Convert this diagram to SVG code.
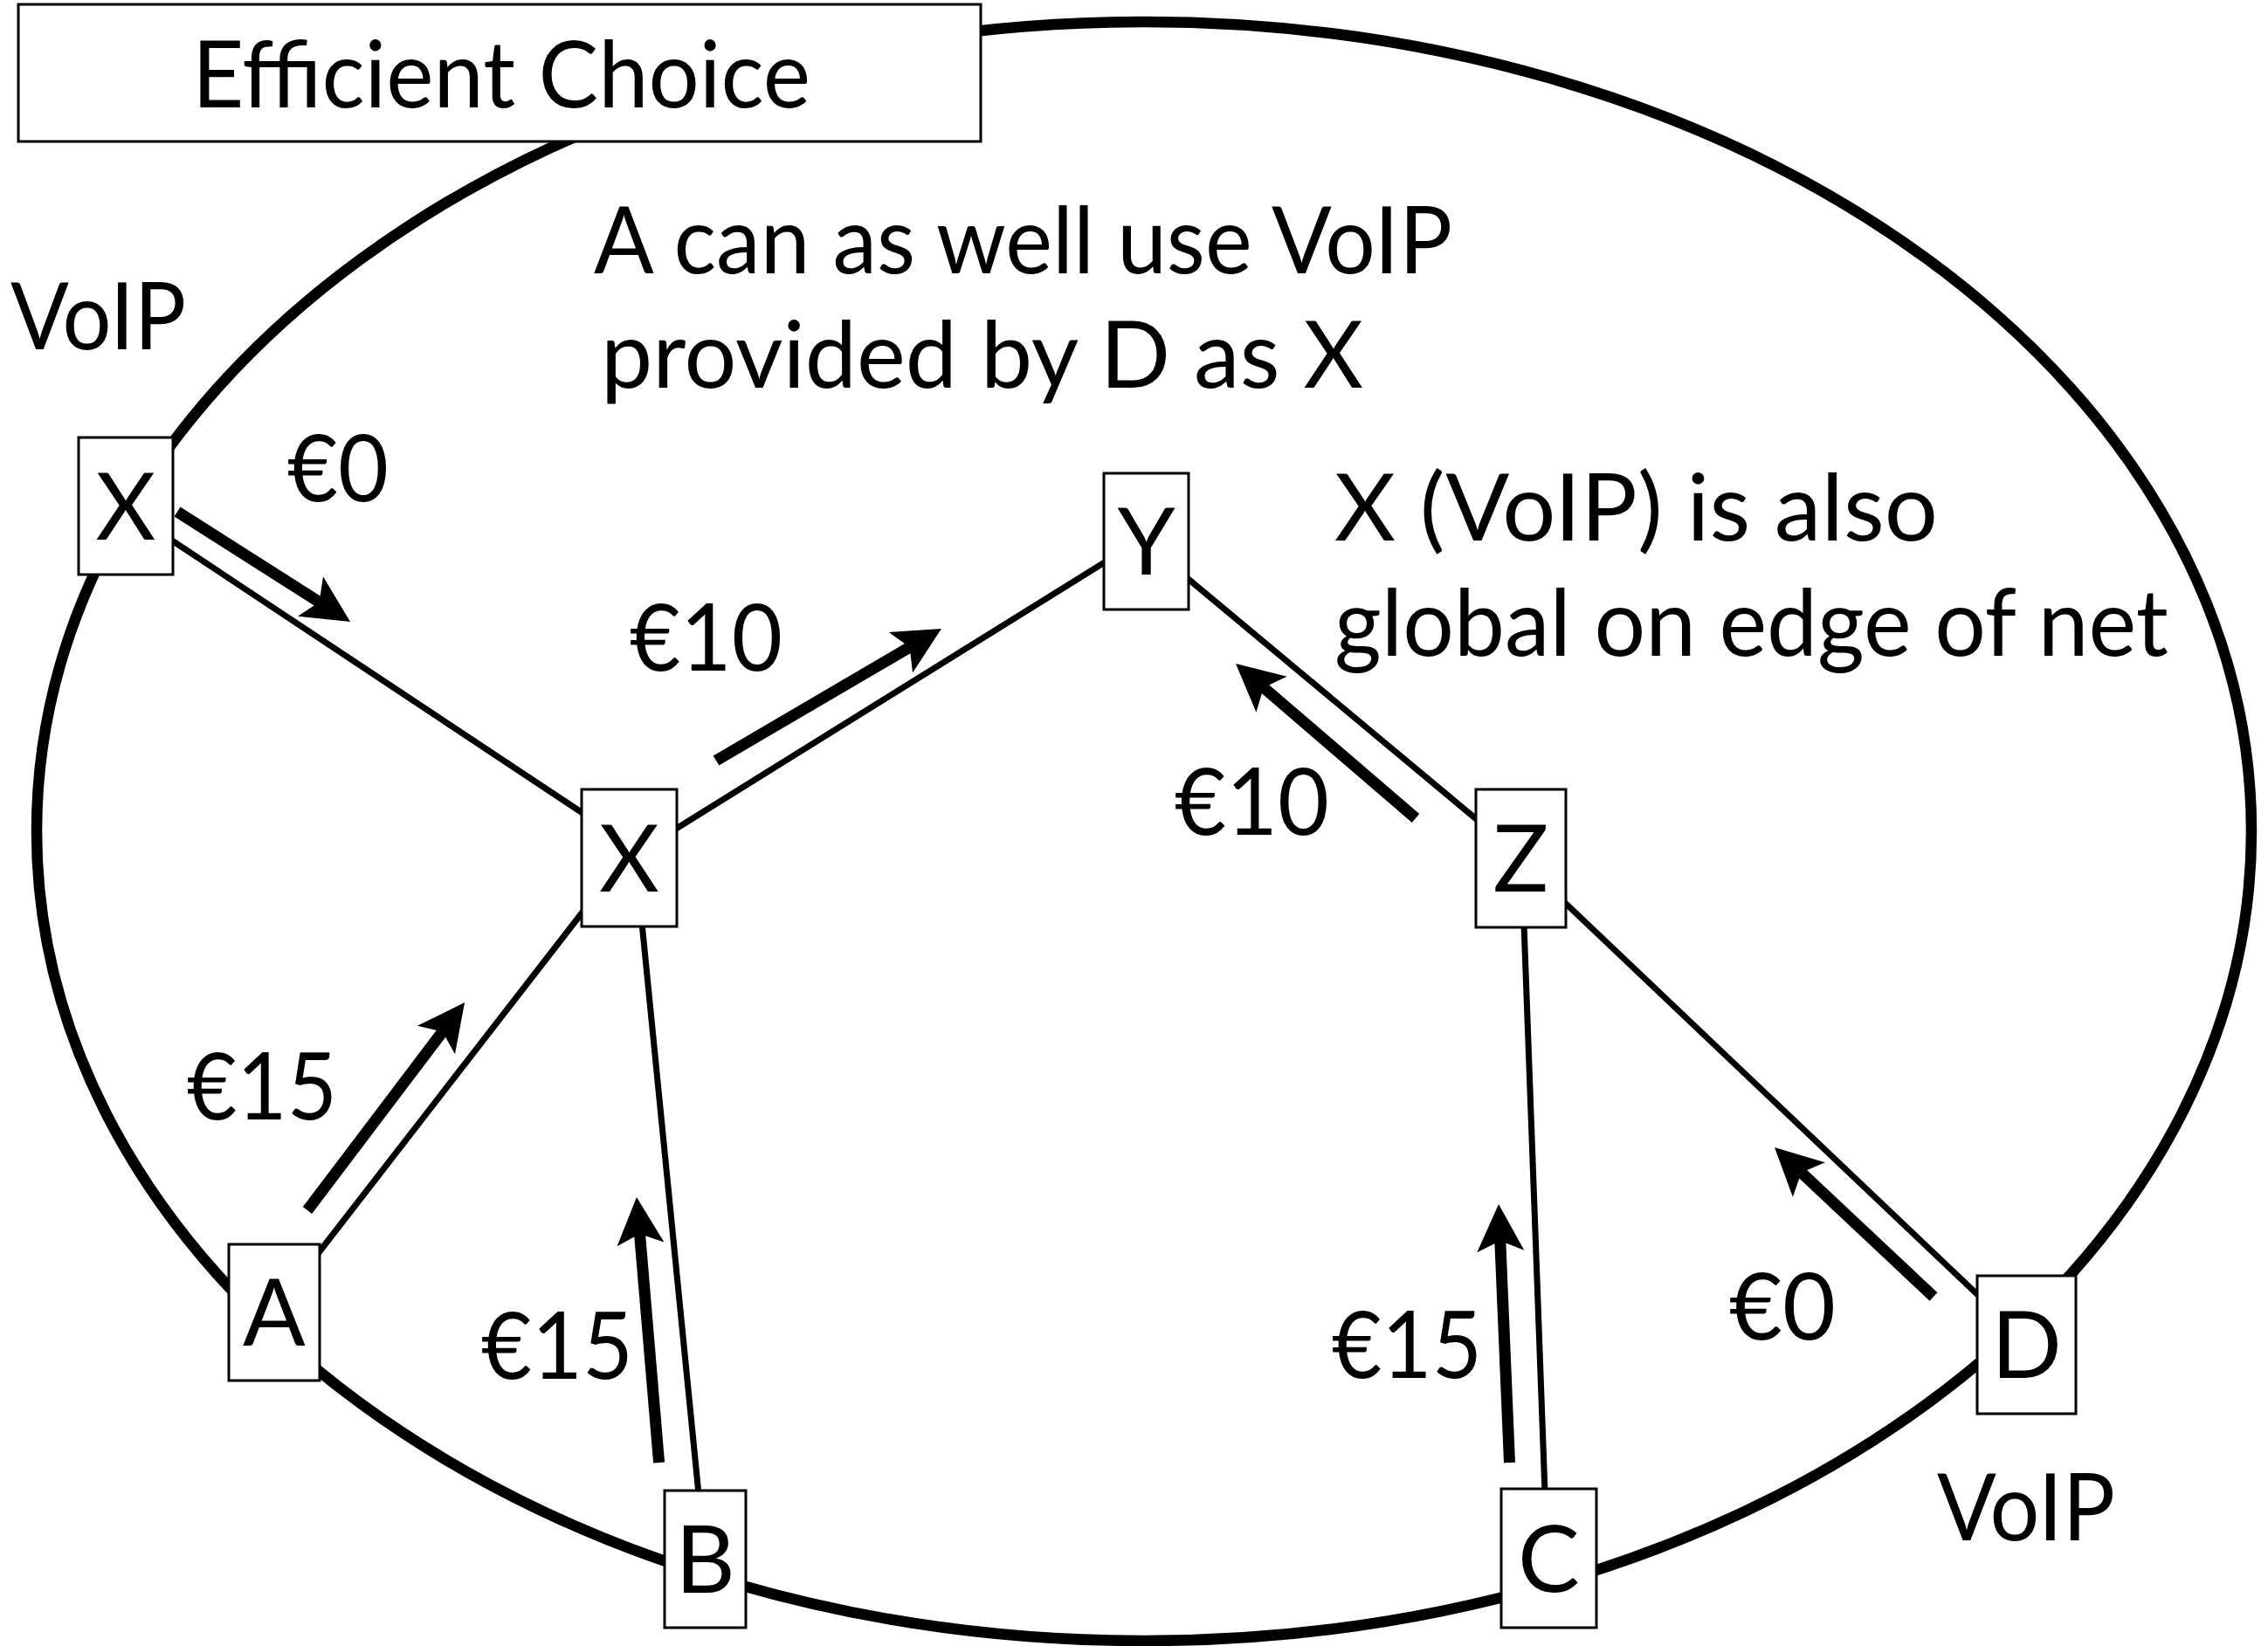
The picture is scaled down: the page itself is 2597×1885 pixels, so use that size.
<svg xmlns="http://www.w3.org/2000/svg" width="2597" height="1885" viewBox="0 0 2597 1885">
<style>
  .bg { fill: #ffffff; }
  .ring { fill: none; stroke: #000; stroke-width: 12.5; }
  .box { fill: #ffffff; stroke: #000; stroke-width: 3; }
  .edge { fill: none; stroke: #000; stroke-width: 7; stroke-linecap: butt; }
  .flow { fill: none; stroke: #000; stroke-width: 13; stroke-linecap: butt; marker-end: url(#ah); }
  text { font-family: "Lato", "Open Sans", "Liberation Sans", sans-serif; font-size: 106px; fill: #000; }
  .nl { text-anchor: middle; }
</style>
<defs>
  <marker id="ah" markerUnits="userSpaceOnUse" viewBox="-15 -30 60 60" markerWidth="60" markerHeight="60" refX="0" refY="0" orient="auto">
    <path d="M42,0 L-12,-27 L0,0 L-12,27 Z" fill="#000"/>
  </marker>
</defs>
<rect class="bg" x="0" y="0" width="2597" height="1885"/>

<g id="boundary">
  <ellipse class="ring" cx="1310" cy="952" rx="1268" ry="927"/>
</g>

<g id="title">
  <rect class="box" x="21" y="5" width="1102" height="157"/>
  <text x="220" y="123" textLength="708" lengthAdjust="spacingAndGlyphs">Efficient Choice</text>
</g>

<g id="connectors">
  <line class="edge" x1="194" y1="617" x2="670" y2="933"/>
  <line class="edge" x1="771" y1="951" x2="1268" y2="642"/>
  <line class="edge" x1="1357" y1="660" x2="1694" y2="941"/>
  <line class="edge" x1="1789" y1="1031" x2="2268" y2="1486"/>
  <line class="edge" x1="1745" y1="1058" x2="1769" y2="1709"/>
  <line class="edge" x1="735" y1="1057" x2="800" y2="1711"/>
  <line class="edge" x1="363" y1="1437" x2="669" y2="1042"/>

  <line class="flow" x1="203" y1="586" x2="365.6" y2="689.5"/>
  <line class="flow" x1="820" y1="871" x2="1041.7" y2="741.2"/>
  <line class="flow" x1="1621" y1="937" x2="1446.9" y2="787.4"/>
  <line class="flow" x1="352" y1="1386" x2="506.7" y2="1181.5"/>
  <line class="flow" x1="754.6" y1="1675" x2="732.5" y2="1412.9"/>
  <line class="flow" x1="1728.5" y1="1675" x2="1717.8" y2="1421"/>
  <line class="flow" x1="2214" y1="1485" x2="2062.6" y2="1342.8"/>
</g>

<g id="node-x-voip">
  <rect class="box" x="90" y="501" width="108" height="157"/>
  <text class="nl" x="144" y="618">X</text>
</g>
<g id="node-x">
  <rect class="box" x="666" y="904" width="109" height="157"/>
  <text class="nl" x="720.5" y="1021">X</text>
</g>
<g id="node-y">
  <rect class="box" x="1264" y="542" width="97" height="156"/>
  <text class="nl" x="1312.5" y="658">Y</text>
</g>
<g id="node-z">
  <rect class="box" x="1690" y="904" width="103" height="158"/>
  <text class="nl" x="1741.5" y="1021">Z</text>
</g>
<g id="node-a">
  <rect class="box" x="262" y="1425" width="104" height="156"/>
  <text class="nl" x="314" y="1541">A</text>
</g>
<g id="node-b">
  <rect class="box" x="761" y="1707" width="93" height="157"/>
  <text class="nl" x="807.5" y="1824">B</text>
</g>
<g id="node-c">
  <rect class="box" x="1719" y="1705" width="109" height="159"/>
  <text class="nl" x="1773.5" y="1823">C</text>
</g>
<g id="node-d">
  <rect class="box" x="2264" y="1461" width="113" height="158"/>
  <text class="nl" x="2320.5" y="1578">D</text>
</g>

<g id="labels">
  <text x="680" y="313" textLength="983" lengthAdjust="spacingAndGlyphs">A can as well use VoIP</text>
  <text x="688" y="444" textLength="873" lengthAdjust="spacingAndGlyphs">provided by D as X</text>
  <text x="1528" y="619" textLength="691" lengthAdjust="spacingAndGlyphs">X (VoIP) is also</text>
  <text x="1528" y="751" textLength="955" lengthAdjust="spacingAndGlyphs">global on edge of net</text>
  <text x="12" y="400" textLength="201" lengthAdjust="spacingAndGlyphs">VoIP</text>
  <text x="2218" y="1764" textLength="204" lengthAdjust="spacingAndGlyphs">VoIP</text>
  <text x="329" y="574" textLength="116" lengthAdjust="spacingAndGlyphs">€0</text>
  <text x="721" y="768" textLength="175" lengthAdjust="spacingAndGlyphs">€10</text>
  <text x="1345" y="956" textLength="177" lengthAdjust="spacingAndGlyphs">€10</text>
  <text x="214" y="1282" textLength="172" lengthAdjust="spacingAndGlyphs">€15</text>
  <text x="551" y="1579" textLength="174" lengthAdjust="spacingAndGlyphs">€15</text>
  <text x="1525" y="1578" textLength="172" lengthAdjust="spacingAndGlyphs">€15</text>
  <text x="1980" y="1534" textLength="122" lengthAdjust="spacingAndGlyphs">€0</text>
</g>
</svg>
